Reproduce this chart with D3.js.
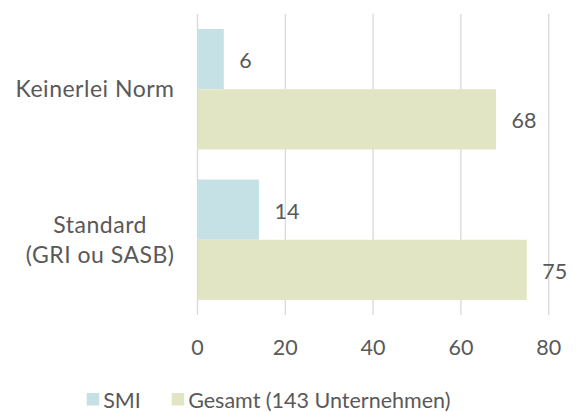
<!DOCTYPE html>
<meta charset="utf-8">
<style>
  body { margin: 0; background: #fff; }
  text { font-family: Lato, "Open Sans", sans-serif; fill: #595959; }
</style>
<body>
<div id="chart"></div>
<script src="https://d3js.org/d3.v7.min.js"></script>
<script>
  // data
  var categories = [["Keinerlei Norm"], ["Standard", "(GRI ou SASB)"]];
  var seriesNames = ["SMI", "Gesamt (143 Unternehmen)"];
  var smiValues = [6, 14];
  var gesamtValues = [68, 75];
  var xTicks = [0, 20, 40, 60, 80];
  var colors = ["#c5e1e6", "#e1e5c4"];

  var width = 578, height = 412, fs = 21.5;
  var plotL = 197.5, plotR = 548.7, plotT = 14, plotB = 315;

  var svg = d3.select("#chart").append("svg")
    .attr("width", width).attr("height", height);

  var x = d3.scaleLinear().domain([0, 80]).range([plotL, plotR]);
  var y = d3.scaleBand().domain(d3.range(categories.length))
    .range([plotT, plotB]).paddingInner(0.2).paddingOuter(0.1);
  var sub = d3.scaleBand().domain([0, 1]).range([0, y.bandwidth()]);

  // gridlines
  svg.append("g").selectAll("line").data(xTicks).join("line")
    .attr("x1", d => x(d)).attr("x2", d => x(d))
    .attr("y1", plotT).attr("y2", plotB)
    .attr("stroke", "#d9d9d9").attr("stroke-width", 1.3);

  // bars + value labels
  var series = [smiValues, gesamtValues];
  series.forEach(function (vals, s) {
    var g = svg.append("g");
    g.selectAll("rect").data(vals).join("rect")
      .attr("x", x(0))
      .attr("y", (d, i) => y(i) + sub(s))
      .attr("width", d => x(d) - x(0))
      .attr("height", sub.bandwidth())
      .attr("fill", colors[s]);
    g.selectAll("text").data(vals).join("text")
      .attr("x", d => x(d) + 15.5)
      .attr("y", (d, i) => y(i) + sub(s) + sub.bandwidth() / 2)
      .attr("dy", "0.42em")
      .attr("font-size", fs)
      .text(d => d);
  });

  // category labels, right edge at 174, lines centred on each other
  categories.forEach(function (lines, i) {
    var cy = y(i) + y.bandwidth() / 2;
    var t = svg.append("text")
      .attr("text-anchor", "middle")
      .attr("font-size", 23)
      .attr("letter-spacing", 0.5);
    lines.forEach(function (l, j) {
      t.append("tspan")
        .attr("x", 0)
        .attr("y", cy + (j - (lines.length - 1) / 2) * 30)
        .attr("dy", "0.34em")
        .text(l);
    });
    var bb = t.node().getBBox();
    t.selectAll("tspan").attr("x", 174.5 - bb.width / 2);
  });

  // x tick labels
  svg.append("g").selectAll("text").data(xTicks).join("text")
    .attr("x", d => x(d)).attr("y", 355)
    .attr("text-anchor", "middle")
    .attr("font-size", fs)
    .text(d => d);

  // legend
  var legendX = [86.7, 171.7];
  seriesNames.forEach(function (name, s) {
    svg.append("rect")
      .attr("x", legendX[s]).attr("y", 393)
      .attr("width", 12.5).attr("height", 12.5)
      .attr("fill", colors[s]);
    svg.append("text")
      .attr("x", legendX[s] + 16.5).attr("y", 407.5)
      .attr("font-size", fs)
      .text(name);
  });
</script>
</body>
